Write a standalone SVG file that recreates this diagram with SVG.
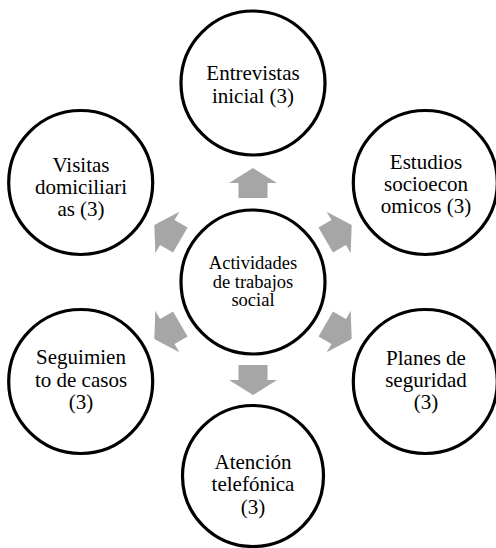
<svg xmlns="http://www.w3.org/2000/svg" xmlns:xlink="http://www.w3.org/1999/xlink" width="496" height="548" viewBox="0 0 496 548">
  <style>
    .node { fill: #ffffff; stroke: #000000; stroke-width: 3.2; }
    text { font-family: "Liberation Serif", "Times New Roman", serif; fill: #000000; text-anchor: middle; }
    .lbl { font-size: 21px; }
    .hub { font-size: 18.5px; }
    .arrow { fill: #a6a6a6; stroke: none; }
  </style>
  <defs>
    <!-- block arrow pointing along +x, centred on the origin -->
    <polygon id="blockArrow" class="arrow" points="-15,-14.5 0,-14.5 0,-24 15,0 0,24 0,14.5 -15,14.5"/>
  </defs>
  <rect width="496" height="548" fill="#ffffff"/>

  <!-- outward arrows from the hub -->
  <g id="connectors">
    <use xlink:href="#blockArrow" transform="translate(253,183) rotate(-90)"/>
    <use xlink:href="#blockArrow" transform="translate(338.7,232.5) rotate(-30)"/>
    <use xlink:href="#blockArrow" transform="translate(338.7,331.5) rotate(30)"/>
    <use xlink:href="#blockArrow" transform="translate(253,380) rotate(90)"/>
    <use xlink:href="#blockArrow" transform="translate(167.3,331.5) rotate(150)"/>
    <use xlink:href="#blockArrow" transform="translate(167.3,232.5) rotate(210)"/>
  </g>

  <g id="hub">
    <circle class="node" cx="253" cy="282" r="72"/>
    <text class="hub" x="253" y="269">Actividades</text>
    <text class="hub" x="253" y="287.5">de trabajos</text>
    <text class="hub" x="253" y="306">social</text>
  </g>

  <g id="entrevistas">
    <circle class="node" cx="253" cy="83" r="72"/>
    <text class="lbl" x="253" y="80">Entrevistas</text>
    <text class="lbl" x="253" y="103">inicial (3)</text>
  </g>

  <g id="estudios">
    <circle class="node" cx="425.3" cy="182.5" r="72"/>
    <text class="lbl" x="426" y="169">Estudios</text>
    <text class="lbl" x="426" y="191">socioecon</text>
    <text class="lbl" x="426" y="213">omicos (3)</text>
  </g>

  <g id="planes">
    <circle class="node" cx="425.3" cy="381.5" r="72"/>
    <text class="lbl" x="426" y="365">Planes de</text>
    <text class="lbl" x="426" y="387">seguridad</text>
    <text class="lbl" x="426" y="409">(3)</text>
  </g>

  <g id="atencion">
    <circle class="node" cx="253" cy="476" r="70.5"/>
    <text class="lbl" x="253" y="469">Atención</text>
    <text class="lbl" x="253" y="491">telefónica</text>
    <text class="lbl" x="253" y="514">(3)</text>
  </g>

  <g id="seguimiento">
    <circle class="node" cx="80.7" cy="381.5" r="72"/>
    <text class="lbl" x="81" y="364">Seguimien</text>
    <text class="lbl" x="81" y="386.5">to de casos</text>
    <text class="lbl" x="81" y="409">(3)</text>
  </g>

  <g id="visitas">
    <circle class="node" cx="80.7" cy="182.5" r="72"/>
    <text class="lbl" x="81" y="172">Visitas</text>
    <text class="lbl" x="81" y="194">domiciliari</text>
    <text class="lbl" x="81" y="216">as (3)</text>
  </g>
</svg>
